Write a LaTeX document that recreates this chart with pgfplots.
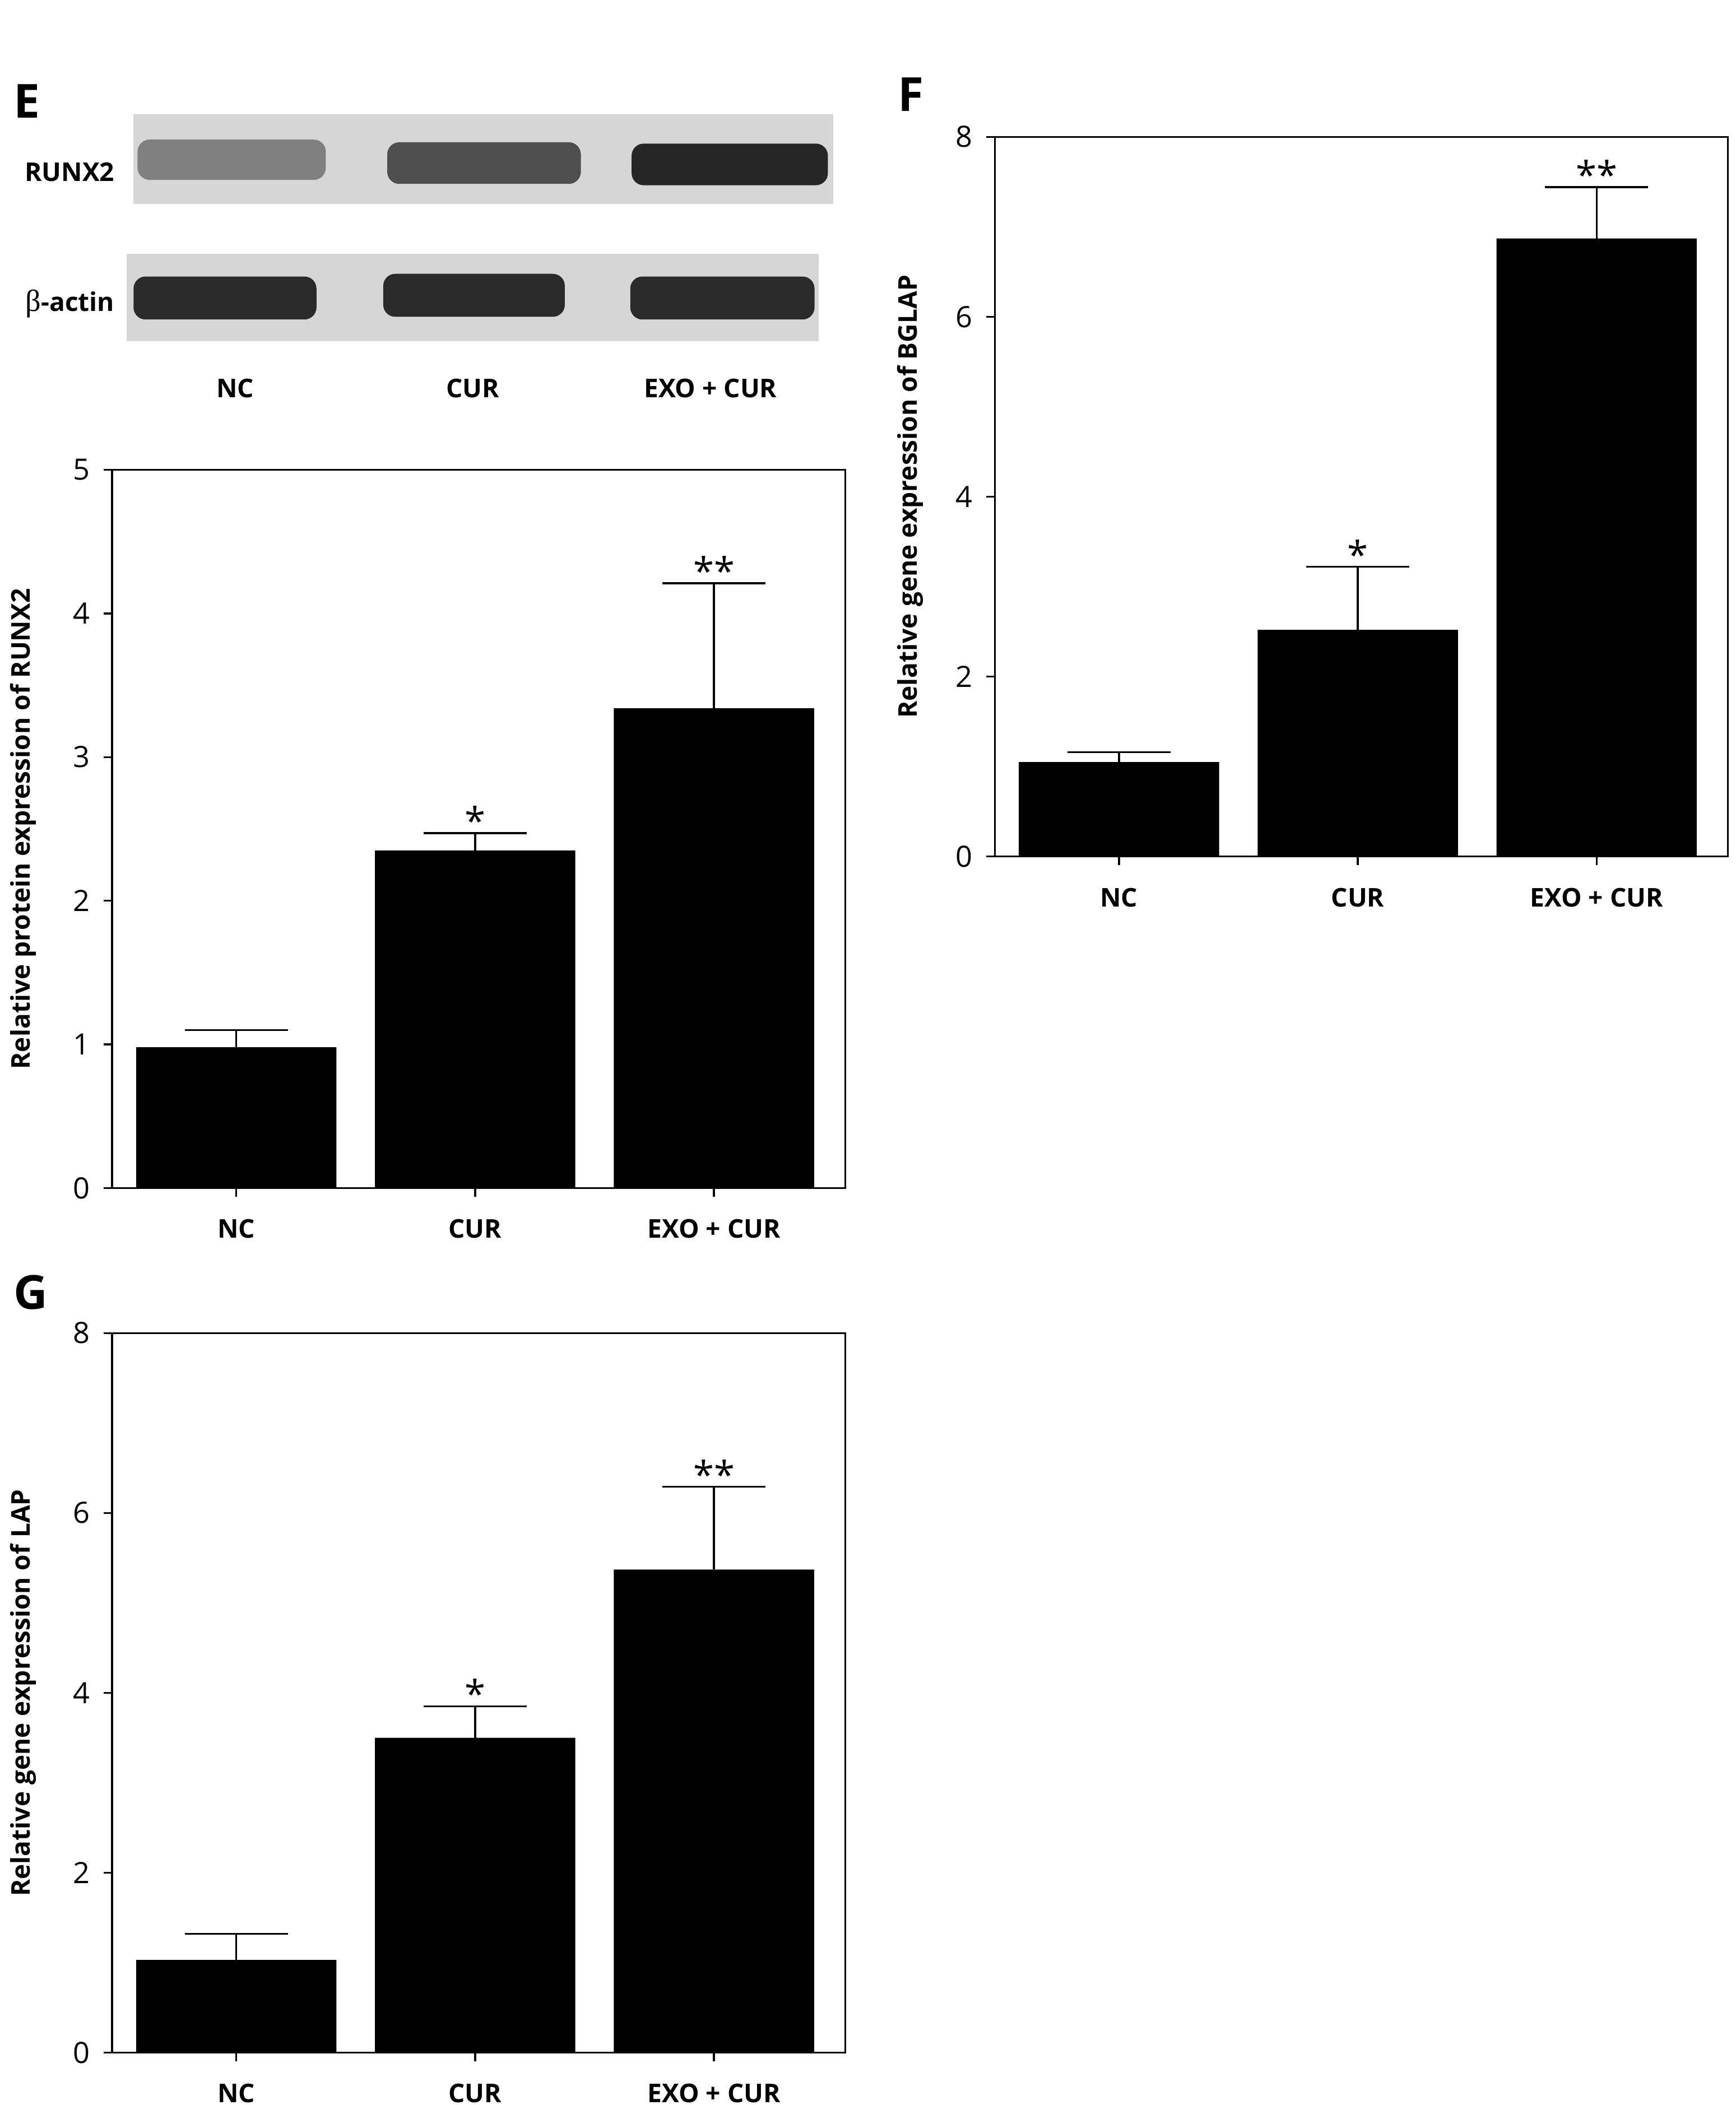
\documentclass[border=0pt]{standalone}
\usepackage{pgfplots}
\pgfplotsset{compat=1.18}
\usepackage{fontspec}
\setmainfont{Open Sans}
\newfontfamily\serifb{Liberation Serif}
\definecolor{blotbg}{RGB}{214,214,214}
\definecolor{bandA}{RGB}{128,128,128}
\definecolor{bandB}{RGB}{78,78,78}
\definecolor{bandC}{RGB}{38,38,38}
\definecolor{bandD}{RGB}{42,42,42}
\tikzset{sigstar/.style={font=\fontsize{16}{16}\selectfont, anchor=base, yshift=-0.2mm, inner sep=0pt}}
\pgfplotsset{
  mybar/.style={
    scale only axis, width=109.8mm,
    xmin=-0.52, xmax=2.55, ymin=0,
    xtick={0,1,2}, xticklabels={NC,CUR,EXO + CUR},
    tick align=outside, xtick pos=bottom, ytick pos=left,
    major tick length=1.3mm,
    axis line style={line width=0.8pt},
    tick style={line width=0.8pt, black},
    xticklabel style={font=\fontsize{11}{13}\selectfont\bfseries, anchor=base, yshift=-6.2mm},
    yticklabel style={font=\fontsize{12.5}{14}\selectfont, xshift=-0.8mm},
    /pgf/number format/assume math mode=true,
    ylabel style={font=\fontsize{11}{13}\selectfont\bfseries, anchor=center},
    ybar, bar width=30mm,
    clip=false,
    error bars/y dir=plus, error bars/y explicit, error bars/error mark=|,
    error bars/error bar style={line width=0.8pt, draw=black},
    error bars/error mark options={line width=0.8pt, draw=black, mark size=7.7mm},
  },
}
\begin{document}
\begin{tikzpicture}
\useasboundingbox (0,0) rectangle (260mm,315.32mm);
% ---------------- blot (panel E) ----------------
\begin{scope}[x=0.2mm, y=-0.2011mm, shift={(0mm,315.32mm)}]
\node[anchor=base west, inner sep=0pt, font=\fontsize{20}{20}\selectfont\bfseries] at (10,88) {E};
\fill[blotbg] (100,85) rectangle (624,152);
\fill[bandA, rounded corners=1.8mm] (103,104) rectangle (244,134);
\fill[bandB, rounded corners=1.8mm] (290,106) rectangle (435,137);
\fill[bandC, rounded corners=1.8mm] (473,107) rectangle (620,138);
\fill[blotbg] (95,189) rectangle (613,254);
\fill[bandD, rounded corners=1.8mm] (100,206) rectangle (237,238);
\fill[bandD, rounded corners=1.8mm] (287,204) rectangle (423,236);
\fill[bandD, rounded corners=1.8mm] (472,206) rectangle (610,238);
\node[anchor=base east, inner sep=0pt, font=\fontsize{11}{13}\selectfont\bfseries] at (86,135) {RUNX2};
\node[anchor=base east, inner sep=0pt, font=\fontsize{11}{13}\selectfont\bfseries] at (86,232) {{\serifb\mdseries\fontsize{13}{13}\selectfont β}-actin};
\node[anchor=base, inner sep=0pt, font=\fontsize{11}{13}\selectfont\bfseries] at (176,296) {NC};
\node[anchor=base, inner sep=0pt, font=\fontsize{11}{13}\selectfont\bfseries] at (354,296) {CUR};
\node[anchor=base, inner sep=0pt, font=\fontsize{11}{13}\selectfont\bfseries] at (532,296) {EXO + CUR};
\node[anchor=base west, inner sep=0pt, font=\fontsize{20}{20}\selectfont\bfseries] at (672,83) {F};
\node[anchor=base west, inner sep=0pt, font=\fontsize{20}{20}\selectfont\bfseries] at (10,975) {G};
\end{scope}
% ---------------- E chart ----------------
\begin{axis}[mybar, at={(16.8mm,137.35mm)}, anchor=south west, height=107.6mm,
  ymax=5, ytick={0,1,2,3,4,5},
  ylabel={Relative protein expression of RUNX2},
  ylabel style={at={(axis description cs:-0.121,0.5)}}]
\addplot[fill=black, draw=none] coordinates {(0,0.98) +- (0,0.12) (1,2.35) +- (0,0.12) (2,3.34) +- (0,0.87)};
\node[sigstar] at (axis cs:1,2.47) {*};
\node[sigstar] at (axis cs:2,4.21) {**};
\end{axis}
% ---------------- F chart ----------------
\begin{axis}[mybar, at={(149mm,187.02mm)}, anchor=south west, height=107.8mm,
  ymax=8, ytick={0,2,4,6,8},
  ylabel={Relative gene expression of BGLAP},
  ylabel style={at={(axis description cs:-0.115,0.5)}}]
\addplot[fill=black, draw=none] coordinates {(0,1.05) +- (0,0.11) (1,2.52) +- (0,0.70) (2,6.87) +- (0,0.57)};
\node[sigstar] at (axis cs:1,3.22) {*};
\node[sigstar] at (axis cs:2,7.44) {**};
\end{axis}
% ---------------- G chart ----------------
\begin{axis}[mybar, at={(16.8mm,7.84mm)}, anchor=south west, height=107.8mm,
  ymax=8, ytick={0,2,4,6,8},
  ylabel={Relative gene expression of LAP},
  ylabel style={at={(axis description cs:-0.121,0.5)}}]
\addplot[fill=black, draw=none] coordinates {(0,1.03) +- (0,0.29) (1,3.50) +- (0,0.35) (2,5.37) +- (0,0.92)};
\node[sigstar] at (axis cs:1,3.85) {*};
\node[sigstar] at (axis cs:2,6.29) {**};
\end{axis}
\end{tikzpicture}
\end{document}
